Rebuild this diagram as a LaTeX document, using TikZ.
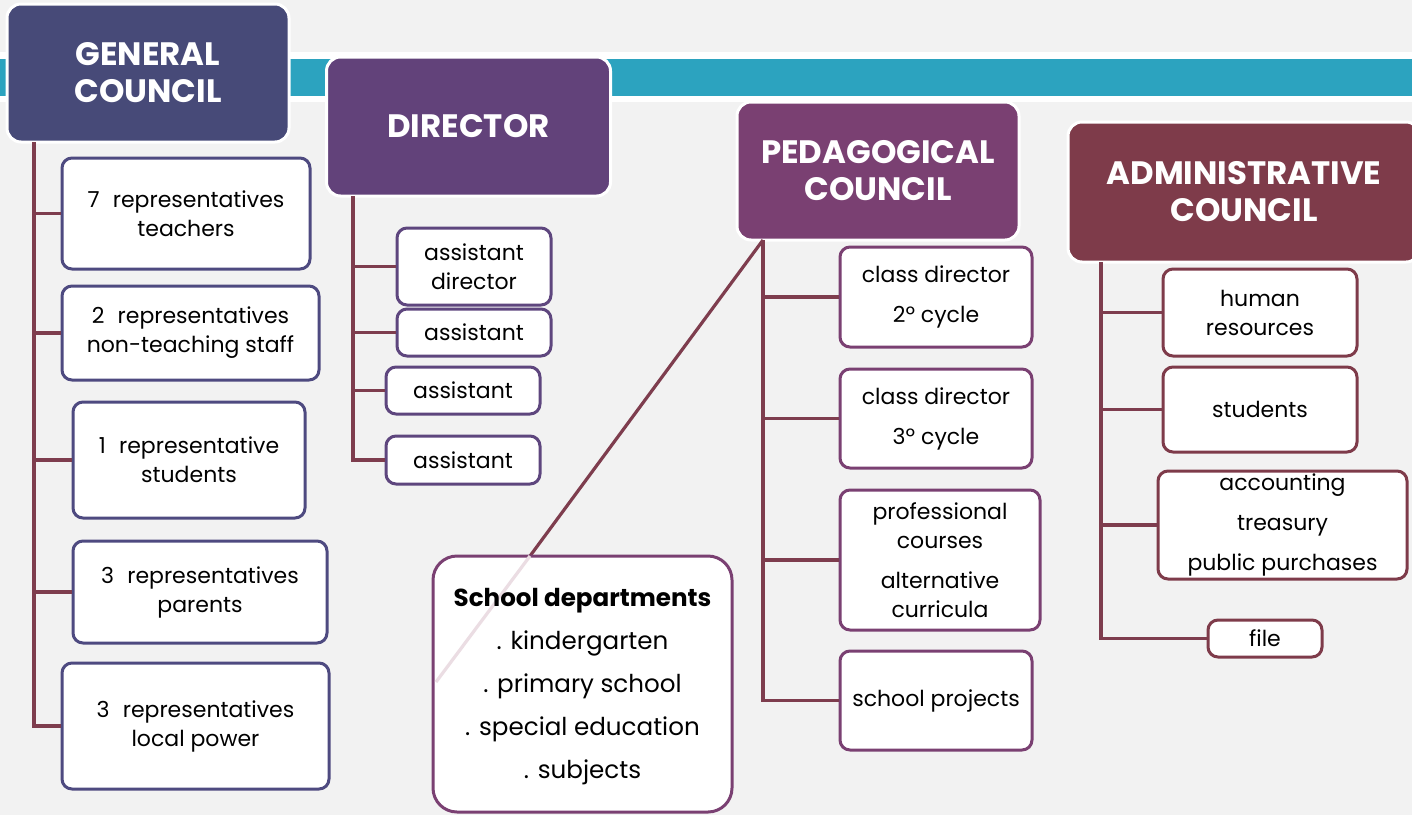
\documentclass[tikz,border=0pt]{standalone}
\usepackage{fontspec}
\setmainfont{Poppins}
\definecolor{bg}{HTML}{F2F2F2}
\definecolor{teal}{HTML}{2CA3BF}
\definecolor{gcC}{HTML}{474A78}
\definecolor{drC}{HTML}{62427A}
\definecolor{pcC}{HTML}{7A4072}
\definecolor{acC}{HTML}{7E3B4A}
\definecolor{gcB}{HTML}{4E4A80}
\definecolor{drB}{HTML}{5E467E}
\definecolor{conn}{HTML}{7E3D4E}
\definecolor{faint}{HTML}{EBDDE3}
\newcommand{\numsp}{\hspace{0.6em}}
\tikzset{
  head/.style={draw=white, line width=1.5pt, rounded corners=7pt, text=white, align=center,
    font=\fontsize{16.2}{18.5}\selectfont\bfseries, inner sep=0pt},
  cbox/.style={draw, fill=white, line width=1.5pt, rounded corners=5pt, align=center,
    font=\fontsize{11}{14.5}\selectfont, inner sep=0pt},
  wide/.style={font=\fontsize{11}{20}\selectfont},
  link/.style={draw=conn, line width=1.6pt},
}
\begin{document}
\begin{tikzpicture}[x=0.5pt,y=-0.5pt]
\useasboundingbox (0,0) rectangle (1412,815);
\fill[bg] (0,0) rectangle (1412,815);
% top band
\fill[white] (0,52) rectangle (1412,102);
\fill[teal] (0,59) rectangle (1412,96);

% headers
\node[head, fill=gcC, minimum width=141pt, minimum height=69pt] (gc) at (148,73) {GENERAL\\COUNCIL};
\node[head, fill=drC, minimum width=142pt, minimum height=69.5pt] (dr) at (468.5,126.5) {DIRECTOR};
\node[head, fill=pcC, minimum width=141pt, minimum height=69pt] (pc) at (878,171) {PEDAGOGICAL\\COUNCIL};
\node[head, fill=acC, minimum width=176pt, minimum height=70pt] (ac) at (1244,192) {ADMINISTRATIVE\\COUNCIL};

% general council children
\node[cbox, draw=gcB, minimum width=124pt, minimum height=55.5pt] (g1) at (186,213.5) {7\numsp representatives\\teachers};
\node[cbox, draw=gcB, minimum width=128.5pt, minimum height=47pt] (g2) at (190.5,333) {2\numsp representatives\\non-teaching staff};
\node[cbox, draw=gcB, minimum width=116pt, minimum height=58pt] (g3) at (189,460) {1\numsp representative\\students};
\node[cbox, draw=gcB, minimum width=127pt, minimum height=51pt] (g4) at (200,592) {3\numsp representatives\\parents};
\node[cbox, draw=gcB, minimum width=133.5pt, minimum height=63pt] (g5) at (195.5,726) {3\numsp representatives\\local power};
\coordinate (gct) at (34,142);
\draw[link] (gct) |- (g5.west);
\foreach \n in {g1,g2,g3,g4} \draw[link] (gct |- \n.west) -- (\n.west);

% director children
\node[cbox, draw=drB, minimum width=77pt, minimum height=38.5pt] (d1) at (474,266.5) {assistant\\director};
\node[cbox, draw=drB, minimum width=77pt, minimum height=23.5pt] (d2) at (474,332.5) {assistant};
\node[cbox, draw=drB, minimum width=77pt, minimum height=23.5pt] (d3) at (463,390.5) {assistant};
\node[cbox, draw=drB, minimum width=77pt, minimum height=24pt] (d4) at (463,460) {assistant};
\coordinate (drt) at (353,196);
\draw[link] (drt) |- (d4.west);
\foreach \n in {d1,d2,d3} \draw[link] (drt |- \n.west) -- (\n.west);

% pedagogical children
\node[cbox, draw=pcC, wide, minimum width=96pt, minimum height=50pt] (p1) at (936,297) {class director\\2º cycle};
\node[cbox, draw=pcC, wide, minimum width=96pt, minimum height=49.5pt] (p2) at (936,418.5) {class director\\3º cycle};
\node[cbox, draw=pcC, minimum width=100pt, minimum height=70pt] (p3) at (940,560) {professional\\courses\\[5.5pt]alternative\\curricula};
\node[cbox, draw=pcC, minimum width=96pt, minimum height=49.5pt] (p4) at (936,700.5) {school projects};
\coordinate (pct) at (763,240);
\draw[link] (pct) |- (p4.west);
\foreach \n in {p1,p2,p3} \draw[link] (pct |- \n.west) -- (\n.west);

% school departments
\coordinate (sdin) at (530,556);
\coordinate (sdend) at (436,682);
\draw[link] (pct) -- (sdin);
\node[cbox, draw=pcC, rounded corners=12pt, minimum width=149.5pt, minimum height=128pt] (sd) at (582.5,684) {};
\draw[faint, line width=1.6pt] (sdin) -- (sdend);
\node[font=\fontsize{12.3}{21.5}\selectfont, align=center, inner sep=0pt] (sdt) at (582.5,687) {\textbf{School departments}\\. kindergarten\\. primary school\\. special education\\. subjects};

% administrative children
\node[cbox, draw=acC, minimum width=97pt, minimum height=43.5pt] (a1) at (1260,312.5) {human\\resources};
\node[cbox, draw=acC, minimum width=97pt, minimum height=42.5pt] (a2) at (1260,409.5) {students};
\node[cbox, draw=acC, wide, minimum width=124.5pt, minimum height=54pt] (a3) at (1282.5,525) {accounting\\treasury\\public purchases};
\node[cbox, draw=acC, minimum width=57pt, minimum height=18.5pt] (a4) at (1265,638.5) {file};
\coordinate (act) at (1101,262);
\draw[link] (act) |- (a4.west);
\foreach \n in {a1,a2,a3} \draw[link] (act |- \n.west) -- (\n.west);
\end{tikzpicture}
\end{document}
